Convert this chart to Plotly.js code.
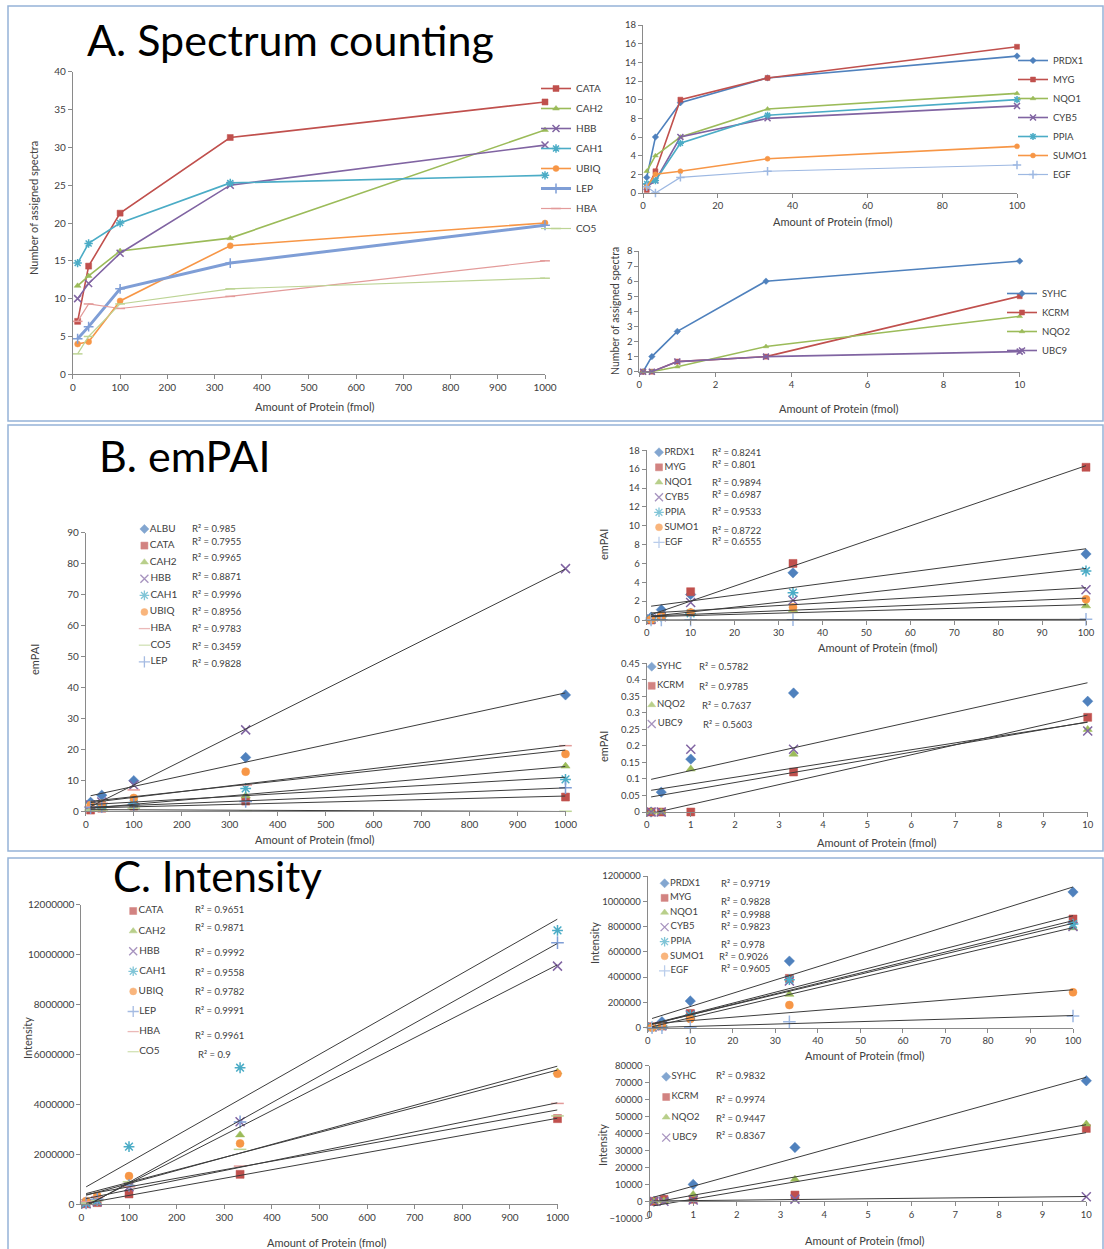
<!DOCTYPE html>
<html><head><meta charset="utf-8">
<script src="https://cdn.plot.ly/plotly-3.0.1.min.js"></script>
<style>html,body{margin:0;padding:0;background:#fff}#chart{width:1104px;height:1249px}</style>
</head><body><div id="chart"></div>
<script>
// ================= DATA =================
// amounts of protein (fmol) per concentration group
const fmolHigh = [10, 33.3, 100, 333.3, 1000];
const fmolMid  = [1, 3.33, 10, 33.3, 100];
const fmolLow  = [0.1, 0.33, 1, 3.33, 10];

// ---- A. Spectrum counting ----
const specHighProteins = ['CATA','CAH2','HBB','CAH1','UBIQ','LEP','HBA','CO5'];
const specHigh_CATA = [7, 14.3, 21.3, 31.3, 36];
const specHigh_CAH2 = [11.7, 13, 16.3, 18, 32.3];
const specHigh_HBB  = [10, 12, 16, 25, 30.3];
const specHigh_CAH1 = [14.7, 17.3, 20, 25.3, 26.3];
const specHigh_UBIQ = [4, 4.3, 9.7, 17, 20];
const specHigh_LEP  = [4.7, 6.3, 11.3, 14.7, 19.7];
const specHigh_HBA  = [7, 9.3, 8.7, 10.3, 15];
const specHigh_CO5  = [2.7, 5, 9.3, 11.3, 12.7];

const specMidProteins = ['PRDX1','MYG','NQO1','CYB5','PPIA','SUMO1','EGF'];
const specMid_PRDX1 = [1.67, 6, 9.67, 12.33, 14.67];
const specMid_MYG   = [0.33, 2.33, 10, 12.33, 15.67];
const specMid_NQO1  = [2.33, 4, 6, 9, 10.67];
const specMid_CYB5  = [0.67, 1.33, 6, 8, 9.33];
const specMid_PPIA  = [1, 1.33, 5.33, 8.33, 10];
const specMid_SUMO1 = [0.67, 2, 2.33, 3.67, 5];
const specMid_EGF   = [0.67, 0, 1.67, 2.33, 3];

const specLowProteins = ['SYHC','KCRM','NQO2','UBC9'];
const specLow_SYHC = [0, 1, 2.67, 6, 7.33];
const specLow_KCRM = [0, 0, 0.67, 1, 5];
const specLow_NQO2 = [0, 0, 0.33, 1.67, 3.67];
const specLow_UBC9 = [0, 0, 0.67, 1, 1.33];

// ---- B. emPAI ----
const empaiHighProteins = ['ALBU','CATA','CAH2','HBB','CAH1','UBIQ','HBA','CO5','LEP'];
const empaiHigh_ALBU = [2.9, 5.2, 9.9, 17.4, 37.6];
const empaiHigh_CATA = [0.4, 1.0, 1.7, 3.3, 4.6];
const empaiHigh_CAH2 = [1.0, 1.5, 2.4, 5.0, 14.6];
const empaiHigh_HBB  = [2.0, 3.0, 8.5, 26.3, 78.4];
const empaiHigh_CAH1 = [1.5, 2.0, 2.4, 7.4, 10.3];
const empaiHigh_UBIQ = [2.0, 2.4, 4.3, 12.8, 18.5];
const empaiHigh_HBA  = [1.5, 2.6, 6.9, 8.5, 21.2];
const empaiHigh_CO5  = [0.4, 0.4, 1.0, 0, 0];
const empaiHigh_LEP  = [1.2, 1.5, 2.2, 3.2, 7.6];
const empaiHighR2 = ['0.985','0.7955','0.9965','0.8871','0.9996','0.8956','0.9783','0.3459','0.9828'];

const empaiMidProteins = ['PRDX1','MYG','NQO1','CYB5','PPIA','SUMO1','EGF'];
const empaiMid_PRDX1 = [0.3, 1.1, 2.7, 5.0, 7.0];
const empaiMid_MYG   = [0, 0.4, 3.0, 6.0, 16.2];
const empaiMid_NQO1  = [0.1, 0.2, 0.7, 1.1, 1.5];
const empaiMid_CYB5  = [0.1, 0.35, 1.85, 2.1, 3.2];
const empaiMid_PPIA  = [0.1, 0.35, 0.7, 2.9, 5.2];
const empaiMid_SUMO1 = [0.05, 0.45, 0.8, 1.35, 2.2];
const empaiMid_EGF   = [0, 0, 0, 0.02, 0.07];
const empaiMidR2 = ['0.8241','0.801','0.9894','0.6987','0.9533','0.8722','0.6555'];

const empaiLowProteins = ['SYHC','KCRM','NQO2','UBC9'];
const empaiLow_SYHC = [0, 0.06, 0.16, 0.36, 0.335];
const empaiLow_KCRM = [0, 0, 0, 0.121, 0.2865];
const empaiLow_NQO2 = [0, 0, 0.13, 0.175, 0.25];
const empaiLow_UBC9 = [0, 0, 0.19, 0.19, 0.245];
const empaiLowR2 = ['0.5782','0.9785','0.7637','0.5603'];

// ---- C. Intensity ----
const intHighProteins = ['CATA','CAH2','HBB','CAH1','UBIQ','LEP','HBA','CO5'];
const intHigh_CATA = [20000, 67000, 414000, 1200000, 3430000];
const intHigh_CAH2 = [100000, 240000, 840000, 2780000, 5300000];
const intHigh_HBB  = [20000, 100000, 700000, 3310000, 9540000];
const intHigh_CAH1 = [50000, 150000, 2310000, 5470000, 10970000];
const intHigh_UBIQ = [133000, 347000, 1130000, 2440000, 5230000];
const intHigh_LEP  = [50000, 200000, 750000, 3300000, 10480000];
const intHigh_HBA  = [100000, 300000, 700000, 1530000, 4040000];
const intHigh_CO5  = [50000, 150000, 900000, 2200000, 3540000];
const intHighR2 = ['0.9651','0.9871','0.9992','0.9558','0.9782','0.9991','0.9961','0.9'];

const intMidProteins = ['PRDX1','MYG','NQO1','CYB5','PPIA','SUMO1','EGF'];
const intMid_PRDX1 = [5000, 47000, 211000, 527000, 1073000];
const intMid_MYG   = [8000, 13000, 113000, 390000, 860000];
const intMid_NQO1  = [5000, 20000, 87000, 264000, 791000];
const intMid_CYB5  = [5000, 15000, 100000, 370000, 800000];
const intMid_PPIA  = [5000, 15000, 100000, 380000, 820000];
const intMid_SUMO1 = [0, 16000, 69000, 179000, 280000];
const intMid_EGF   = [0, 0, 3000, 47000, 92000];
const intMidR2 = ['0.9719','0.9828','0.9988','0.9823','0.978','0.9026','0.9605'];

const intLowProteins = ['SYHC','KCRM','NQO2','UBC9'];
const intLow_SYHC = [0, 1400, 10000, 31800, 71100];
const intLow_KCRM = [0, 1200, 1200, 3700, 43000];
const intLow_NQO2 = [0, 400, 4100, 13000, 45600];
const intLow_UBC9 = [0, 0, 800, 1300, 2750];
const intLowR2 = ['0.9832','0.9974','0.9447','0.8367'];

const xTitle = 'Amount of Protein (fmol)';

// ================= STYLES =================
const W = 1104, H = 1249;
const px = v => v / W;
const py = v => 1 - v / H;
const FONT = 'Lato, "Open Sans", "DejaVu Sans", sans-serif';
const TXT = '#404040';

const BLUE='#4F81BD', RED='#C0504D', GREEN='#9BBB59', PURPLE='#8064A2', AQUA='#4BACC6',
      ORANGE='#F79646', LBLUE='#7F9ED6', PINK='#E39B9A', LGREEN='#BDD495';
const styleOf = {
  ALBU:[BLUE,'diamond'], PRDX1:[BLUE,'diamond'], SYHC:[BLUE,'diamond'],
  CATA:[RED,'square'], MYG:[RED,'square'], KCRM:[RED,'square'],
  CAH2:[GREEN,'triangle-up'], NQO1:[GREEN,'triangle-up'], NQO2:[GREEN,'triangle-up'],
  HBB:[PURPLE,'x-thin-open'], CYB5:[PURPLE,'x-thin-open'], UBC9:[PURPLE,'x-thin-open'],
  CAH1:[AQUA,'asterisk-open'], PPIA:[AQUA,'asterisk-open'],
  UBIQ:[ORANGE,'circle'], SUMO1:[ORANGE,'circle'],
  LEP:[LBLUE,'cross-thin-open'], EGF:['#9DB8E2','cross-thin-open'],
  HBA:[PINK,'line-ew-open'], CO5:[LGREEN,'line-ew-open']
};
function isOpen(sym){ return sym.indexOf('open') >= 0; }
function markerFor(name, size){
  const [c, s] = styleOf[name];
  return {symbol: s, color: c, size: isOpen(s) ? size + 1 : size,
          line: {color: c, width: isOpen(s) ? 1.5 : 0.5}};
}

const layout = {
  width: W, height: H, margin: {l:0, r:0, t:0, b:0},
  paper_bgcolor: '#ffffff', plot_bgcolor: 'rgba(0,0,0,0)',
  font: {family: FONT, size: 10, color: TXT},
  showlegend: true, shapes: [], annotations: [], hovermode: false
};
const traces = [];

function axName(n){ return n === 1 ? '' : String(n); }
function addAxes(n, x0, x1, y0, y1, xr, xdt, yr, ydt, tf, yfmt){
  const common = {showgrid:false, zeroline:false, showline:true, linecolor:'#8a8a8a', linewidth:1,
    ticks:'outside', ticklen:4, tickcolor:'#8a8a8a', tickfont:{family:FONT, size:tf, color:TXT},
    fixedrange:true};
  layout['xaxis'+axName(n)] = Object.assign({}, common, {domain:[px(x0), px(x1)], range:xr,
    tick0:0, dtick:xdt, anchor:'y'+axName(n)});
  layout['yaxis'+axName(n)] = Object.assign({}, common, {domain:[py(y1), py(y0)], range:yr,
    tick0:0, dtick:ydt, anchor:'x'+axName(n), tickformat: yfmt || ''});
}
// put the category (x) axis where the value axis crosses zero, as Excel does
function xAxisAtZero(n){
  const ya = layout['yaxis'+axName(n)], xa = layout['xaxis'+axName(n)];
  const d = ya.domain, r = ya.range;
  xa.anchor = 'free';
  xa.position = d[0] + (0 - r[0]) / (r[1] - r[0]) * (d[1] - d[0]);
}
function ref(n){ return {xaxis:'x'+axName(n), yaxis:'y'+axName(n)}; }

// line + marker series (spectrum counting)
function lineSeries(n, xs, names, values, legendId, msize){
  names.forEach((nm, i) => {
    const [c] = styleOf[nm];
    traces.push(Object.assign({type:'scatter', mode:'lines+markers', name:nm, x:xs, y:values[i],
      line:{color:c, width: nm === 'LEP' ? 3 : (nm === 'HBA' || nm === 'CO5' || nm === 'EGF' ? 1.2 : 1.6)},
      marker: markerFor(nm, msize), legend: legendId, legendgroup: legendId + nm,
      cliponaxis:false}, ref(n)));
  });
}
// least squares trend line
function fit(xs, ys){
  const n = xs.length;
  const mx = xs.reduce((a,b)=>a+b,0)/n, my = ys.reduce((a,b)=>a+b,0)/n;
  let sxy = 0, sxx = 0;
  for (let i=0;i<n;i++){ sxy += (xs[i]-mx)*(ys[i]-my); sxx += (xs[i]-mx)*(xs[i]-mx); }
  const b = sxy/sxx, a = my - b*mx;
  const ex = [xs[0], xs[n-1]];
  return {x: ex, y: ex.map(v => a + b*v)};
}
function markerSeries(n, xs, names, values, msize){
  names.forEach((nm, i) => {
    traces.push(Object.assign({type:'scatter', mode:'markers', name:nm, x:xs, y:values[i],
      marker: markerFor(nm, msize), showlegend:false, cliponaxis:false}, ref(n)));
  });
  names.forEach((nm, i) => {
    const f = fit(xs, values[i]);
    traces.push(Object.assign({type:'scatter', mode:'lines', x:f.x, y:f.y, showlegend:false,
      line:{color:'#3c3c3c', width:1}, cliponaxis:false, hoverinfo:'skip'}, ref(n)));
  });
}
// compact legend drawn on a hidden helper axis pair
function miniLegend(n, names, markerX, firstY, spacing, msize, fsize){
  const cnt = names.length;
  layout['xaxis'+n] = {domain:[px(markerX-8), px(markerX+70)], range:[-8,70], visible:false, fixedrange:true, anchor:'y'+n};
  layout['yaxis'+n] = {domain:[py(firstY+(cnt-0.5)*spacing), py(firstY-spacing/2)], range:[cnt-0.5,-0.5],
    visible:false, fixedrange:true, anchor:'x'+n};
  const syms = names.map(nm => styleOf[nm][1]);
  const cols = names.map(nm => styleOf[nm][0]);
  traces.push({type:'scatter', mode:'markers+text', xaxis:'x'+n, yaxis:'y'+n,
    x: names.map(() => 0), y: names.map((_, i) => i), text: names, textposition:'middle right',
    textfont:{family:FONT, size:fsize, color:TXT},
    marker:{symbol:syms, color:cols, size: syms.map(s => isOpen(s) ? msize+1 : msize),
      line:{color:cols, width: syms.map(s => isOpen(s) ? 1.3 : 0.5)}},
    showlegend:false, cliponaxis:false, hoverinfo:'skip'});
}
function r2Labels(vals, xs, ys, fsize){
  vals.forEach((v, i) => layout.annotations.push({text:'R² = ' + v, xref:'paper', yref:'paper',
    x: px(Array.isArray(xs) ? xs[i] : xs), y: py(ys[i]), xanchor:'left', yanchor:'middle',
    showarrow:false, font:{family:FONT, size:fsize, color:TXT}}));
}
function label(text, x, y, size, angle, anchor){
  layout.annotations.push({text, xref:'paper', yref:'paper', x:px(x), y:py(y),
    xanchor: anchor || 'center', yanchor:'middle', showarrow:false, textangle: angle || 0,
    font:{family:FONT, size, color: size > 30 ? '#000' : TXT}});
}

// ================= PANEL FRAMES & TITLES =================
const frameColor = '#95B3D7';
[[8, 6, 1103, 421], [8, 425, 1103, 851], [8, 858, 1103, 1252]].forEach(r => layout.shapes.push({
  type:'rect', xref:'paper', yref:'paper', x0:px(r[0]), x1:px(r[2]), y0:py(r[3]), y1:py(r[1]),
  line:{color:frameColor, width:1.5}, layer:'below'}));
label('A. Spectrum counting', 85, 39, 43, 0, 'left');
label('B. emPAI', 97, 455, 43, 0, 'left');
label('C. Intensity', 111, 876, 42, 0, 'left');

// ================= A. SPECTRUM COUNTING =================
addAxes(1, 72.9, 545, 71.7, 374.3, [0,1000], 100, [0,40], 5, 10);
lineSeries(1, fmolHigh, specHighProteins,
  [specHigh_CATA, specHigh_CAH2, specHigh_HBB, specHigh_CAH1, specHigh_UBIQ, specHigh_LEP, specHigh_HBA, specHigh_CO5], 'legend', 6);
layout.legend = {x:px(536), y:py(74), xanchor:'left', yanchor:'top', bgcolor:'rgba(0,0,0,0)',
  font:{family:FONT, size:10, color:TXT}, tracegroupgap:1, itemwidth:30};
label('Number of assigned spectra', 33, 208, 11, -90);
label(xTitle, 314, 407, 11);

addAxes(2, 643, 1017, 25, 193, [0,100], 20, [0,18], 2, 9.5);
lineSeries(2, fmolMid, specMidProteins,
  [specMid_PRDX1, specMid_MYG, specMid_NQO1, specMid_CYB5, specMid_PPIA, specMid_SUMO1, specMid_EGF], 'legend2', 5);
layout.legend2 = {x:px(1013), y:py(46), xanchor:'left', yanchor:'top', bgcolor:'rgba(0,0,0,0)',
  font:{family:FONT, size:9.5, color:TXT}, tracegroupgap:0, itemwidth:30};
label(xTitle, 832, 221, 11);

addAxes(3, 639.3, 1019.7, 251, 371.7, [0,10], 2, [0,8], 1, 9.5);
lineSeries(3, fmolLow, specLowProteins,
  [specLow_SYHC, specLow_KCRM, specLow_NQO2, specLow_UBC9], 'legend3', 5);
layout.legend3 = {x:px(1002), y:py(279), xanchor:'left', yanchor:'top', bgcolor:'rgba(0,0,0,0)',
  font:{family:FONT, size:9.5, color:TXT}, tracegroupgap:0, itemwidth:30};
label('Number of assigned spectra', 615, 311, 10.5, -90);
label(xTitle, 838, 408, 11);

// ================= B. emPAI =================
addAxes(4, 85.8, 565.5, 532.7, 811.3, [0,1000], 100, [0,90], 10, 10);
markerSeries(4, fmolHigh, empaiHighProteins,
  [empaiHigh_ALBU, empaiHigh_CATA, empaiHigh_CAH2, empaiHigh_HBB, empaiHigh_CAH1, empaiHigh_UBIQ, empaiHigh_HBA, empaiHigh_CO5, empaiHigh_LEP], 8);
miniLegend(10, empaiHighProteins, 144.4, 529, 16.6, 7, 10);
r2Labels(empaiHighR2, 190, [528.3, 541.3, 557.3, 576.3, 595, 611.7, 628.3, 646.7, 663.7], 9.5);
label('emPAI', 34, 660, 11, -90);
label(xTitle, 314, 839, 11);

addAxes(5, 646.7, 1086, 450.3, 620, [0,100], 10, [0,18], 2, 9.5);
markerSeries(5, fmolMid, empaiMidProteins,
  [empaiMid_PRDX1, empaiMid_MYG, empaiMid_NQO1, empaiMid_CYB5, empaiMid_PPIA, empaiMid_SUMO1, empaiMid_EGF], 8);
miniLegend(11, empaiMidProteins, 659, 452.3, 15, 7, 9.5);
r2Labels(empaiMidR2, 710, [452.3, 464, 482.3, 494.3, 511.7, 530, 541.7], 9.5);
label('emPAI', 603, 545, 11, -90);
label(xTitle, 877, 647, 11);

addAxes(6, 646.7, 1087.7, 663.3, 812, [0,10], 1, [0,0.45], 0.05, 9.5);
markerSeries(6, fmolLow, empaiLowProteins,
  [empaiLow_SYHC, empaiLow_KCRM, empaiLow_NQO2, empaiLow_UBC9], 8);
miniLegend(12, empaiLowProteins, 651.7, 666.7, 19.1, 7, 9.5);
r2Labels(empaiLowR2, [697, 697, 700, 701], [666.7, 686.7, 705.3, 724], 9.5);
label('emPAI', 603, 747, 11, -90);
label(xTitle, 876, 842, 11);

// ================= C. INTENSITY =================
addAxes(7, 81.4, 557.5, 904.7, 1204.3, [0,1000], 100, [0,12000000], 2000000, 10, 'd');
markerSeries(7, fmolHigh, intHighProteins,
  [intHigh_CATA, intHigh_CAH2, intHigh_HBB, intHigh_CAH1, intHigh_UBIQ, intHigh_LEP, intHigh_HBA, intHigh_CO5], 8);
miniLegend(13, intHighProteins, 133.2, 911, 20.1, 7, 10);
r2Labels(intHighR2, [193,193,193,193,193,193,193,195.7], [909.5, 927, 952.3, 972.3, 991, 1010.3, 1035.3, 1054.3], 9.5);
label('Intensity', 27, 1038, 11, -90);
label(xTitle, 326, 1242, 11);

addAxes(8, 647.8, 1073, 876, 1027.7, [0,100], 10, [0,1200000], 200000, 9.5, 'd');
markerSeries(8, fmolMid, intMidProteins,
  [intMid_PRDX1, intMid_MYG, intMid_NQO1, intMid_CYB5, intMid_PPIA, intMid_SUMO1, intMid_EGF], 8);
miniLegend(14, intMidProteins, 664.6, 883.3, 14.6, 7, 9.5);
r2Labels(intMidR2, [718.7,718.7,718.7,718.7,718.7,717,718.7], [883.3, 901.7, 914, 926.3, 944.3, 956.3, 968.3], 9.5);
label('Intensity', 595, 943, 11, -90);
label(xTitle, 864, 1055, 11);

addAxes(9, 649.5, 1086.3, 1065.7, 1218.3, [0,10], 1, [-10000,80000], 10000, 9.5, 'd');
xAxisAtZero(9);
markerSeries(9, fmolLow, intLowProteins,
  [intLow_SYHC, intLow_KCRM, intLow_NQO2, intLow_UBC9], 8);
miniLegend(15, intLowProteins, 666.2, 1076.7, 20.3, 7, 9.5);
r2Labels(intLowR2, 713.7, [1075.7, 1099, 1118.3, 1135], 9.5);
label('Intensity', 602, 1145, 11, -90);
label(xTitle, 864, 1240, 11);

Plotly.newPlot('chart', traces, layout, {staticPlot:true, displayModeBar:false});
</script>
</body></html>
